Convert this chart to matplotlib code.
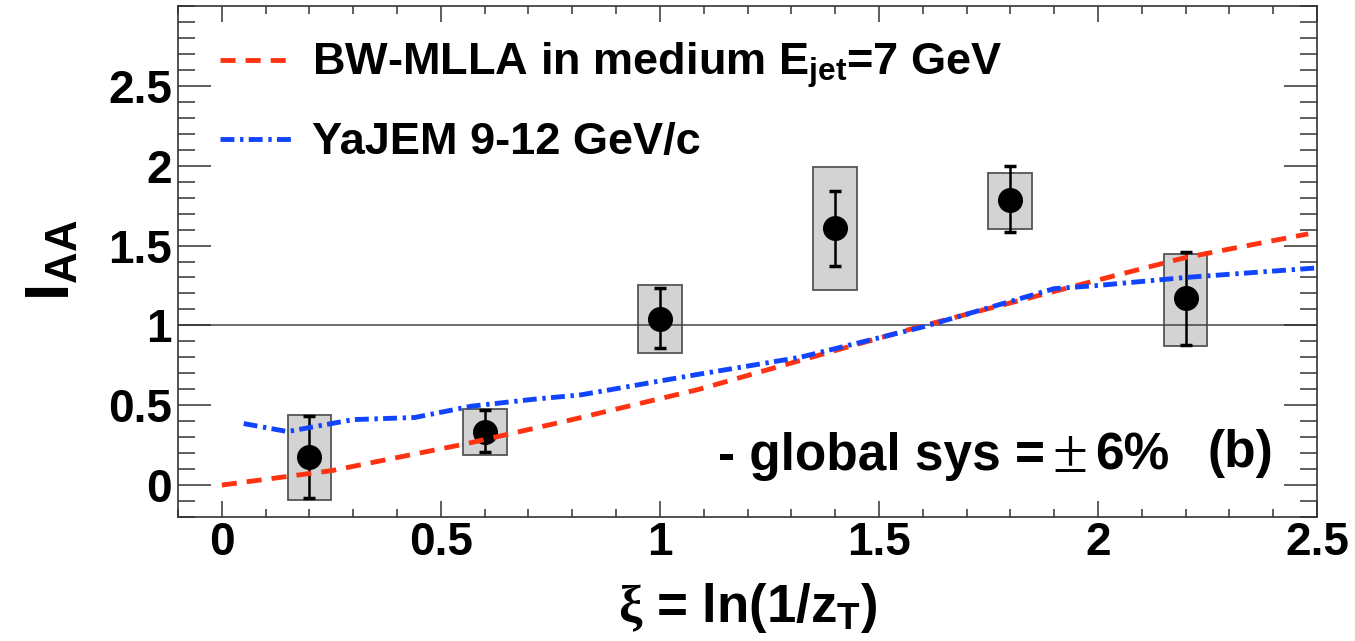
import matplotlib
matplotlib.use("Agg")
import matplotlib.pyplot as plt
from matplotlib.ticker import MultipleLocator, FuncFormatter

# data
xi = [0.2, 0.6, 1.0, 1.4, 1.8, 2.2]
iaa = [0.177, 0.333, 1.042, 1.61, 1.787, 1.173]
stat_lo = [-0.083, 0.204, 0.858, 1.369, 1.583, 0.879]
stat_hi = [0.433, 0.469, 1.231, 1.844, 2.0, 1.458]
sys_lo = [-0.094, 0.19, 0.827, 1.219, 1.602, 0.871]
sys_hi = [0.44, 0.475, 1.254, 1.99, 1.956, 1.448]

mlla_x = [0.0, 0.25, 0.56, 0.8, 1.09, 1.32, 1.59, 1.98, 2.2, 2.48]
mlla_y = [0.0, 0.09, 0.26, 0.41, 0.60, 0.78, 0.99, 1.27, 1.425, 1.573]

yajem_x = [0.05, 0.15, 0.3, 0.44, 0.57, 0.71, 0.82, 1.08, 1.32, 1.6, 1.9, 2.0, 2.2, 2.5]
yajem_y = [0.385, 0.335, 0.41, 0.423, 0.494, 0.537, 0.565, 0.69, 0.80, 0.99, 1.23, 1.25, 1.30, 1.36]

labels = ["BW-MLLA in medium E$_{\\mathrm{jet}}$=7 GeV", "YaJEM 9-12 GeV/c"]

plt.rcParams['font.family'] = ['Liberation Sans', 'DejaVu Sans']
plt.rcParams['font.weight'] = 'bold'
plt.rcParams['axes.labelweight'] = 'bold'
plt.rcParams['mathtext.fontset'] = 'custom'
plt.rcParams['mathtext.rm'] = 'Liberation Sans:bold'
plt.rcParams['mathtext.bf'] = 'Liberation Sans:bold'
plt.rcParams['mathtext.it'] = 'Liberation Serif'

fig = plt.figure(figsize=(13.55, 6.41), dpi=100)
ax = fig.add_axes([178 / 1355, 1 - 517 / 641, (1317 - 178) / 1355, (517 - 6) / 641])

# systematic boxes
heights = [h - l for h, l in zip(sys_hi, sys_lo)]
ax.bar(xi, heights, bottom=sys_lo, width=0.1, color='#d3d3d3',
       edgecolor='#555555', linewidth=1.3, zorder=1)

ax.axhline(1.0, color='#444444', lw=1.1, zorder=1.5)

# data points with stat errors
yerr = [[y - l for y, l in zip(iaa, stat_lo)], [h - y for y, h in zip(iaa, stat_hi)]]
ax.errorbar(xi, iaa, yerr=yerr, fmt='o', color='black', ms=17,
            elinewidth=1.8, capsize=4, capthick=2.5, zorder=3)

# model curves
ax.plot(mlla_x, mlla_y, color='#ff3311', lw=3.5, dashes=(3.1, 2.06), zorder=4, label=labels[0])
ax.plot(yajem_x, yajem_y, color='#1144ff', lw=3.5, dashes=(2.86, 1.17, 0.69, 1.09), zorder=4, label=labels[1])

ax.set_xlim(-0.1, 2.5)
ax.set_ylim(-0.2, 3.0)
ax.set_xticks([0, 0.5, 1, 1.5, 2, 2.5])
ax.set_yticks([0, 0.5, 1, 1.5, 2, 2.5])
ax.xaxis.set_minor_locator(MultipleLocator(0.1))
ax.yaxis.set_minor_locator(MultipleLocator(0.1))
fmt = FuncFormatter(lambda v, p: '%g' % v)
ax.xaxis.set_major_formatter(fmt)
ax.yaxis.set_major_formatter(fmt)

ax.tick_params(which='both', direction='in', top=True, right=True, width=1.1, color='#333333')
ax.tick_params(axis='x', which='major', length=11.5, pad=3, labelsize=33)
ax.tick_params(axis='x', which='minor', length=5.8)
ax.tick_params(axis='y', which='major', length=24, pad=4.5, labelsize=33)
ax.tick_params(axis='y', which='minor', length=12)
for s in ax.spines.values():
    s.set_color('#333333')
    s.set_linewidth(1.2)

ax.set_xlabel(r"$\xi$ = ln(1/z$_{\mathrm{T}}$)", fontsize=38, fontweight='bold')
ax.xaxis.set_label_coords(0.5, -0.125)
fig.text(53 / 1355, 1 - 260 / 641, r"I$_{\mathrm{AA}}$", rotation=90, fontsize=45,
         ha='center', va='center')

leg = ax.legend(loc='upper left', bbox_to_anchor=(0.037, 0.932), frameon=False,
                fontsize=32.5, handlelength=1.6, handletextpad=0.44,
                labelspacing=0.71, borderpad=0, borderaxespad=0)

ax.text(0.474, 0.092, "- global sys =", transform=ax.transAxes, fontsize=37, va='baseline')
ax.text(0.768, 0.088, "\u00b1", transform=ax.transAxes, fontsize=46, va='baseline',
        family='Liberation Serif', fontweight='normal')
ax.text(0.805, 0.092, "6%", transform=ax.transAxes, fontsize=37, va='baseline')
ax.text(0.904, 0.098, "(b)", transform=ax.transAxes, fontsize=37, va='baseline')

fig.savefig("out.png", dpi=100)
